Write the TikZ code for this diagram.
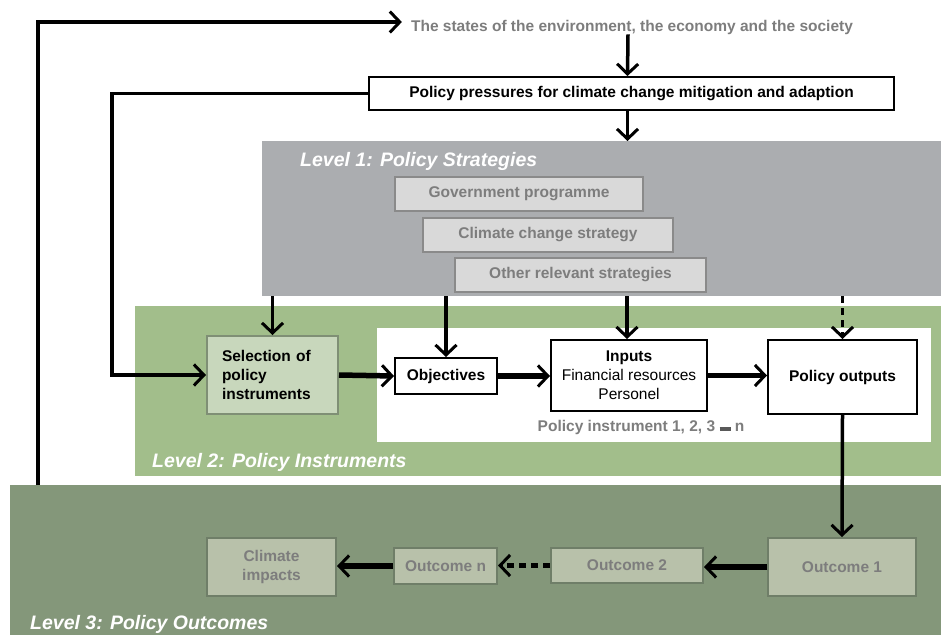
\documentclass[tikz,border=0pt]{standalone}
\usepackage{fontspec}
\setmainfont{Liberation Sans}
\usepackage{xcolor}
\usetikzlibrary{arrows, arrows.meta}
\usetikzlibrary{positioning}
\usetikzlibrary{calc}

\definecolor{levelone}{RGB}{171,173,176}
\definecolor{leveltwo}{RGB}{162,190,139}
\definecolor{levelthree}{RGB}{132,151,122}
\definecolor{stratfill}{RGB}{217,217,217}
\definecolor{stratline}{RGB}{138,138,138}
\definecolor{greytext}{RGB}{125,125,125}
\definecolor{selfill}{RGB}{200,215,188}
\definecolor{selline}{RGB}{127,143,117}
\definecolor{outfill}{RGB}{184,193,170}
\definecolor{outline}{RGB}{111,126,104}

\tikzset{
  txt/.style={font=\fontsize{15.5}{19}\selectfont\bfseries, inner sep=0pt},
  whitebox/.style={txt, draw=black, line width=2pt, fill=white, align=center},
  stratbox/.style={txt, draw=stratline, line width=2pt, fill=stratfill, text=greytext},
  selbox/.style={txt, draw=selline, line width=2pt, fill=selfill, align=left},
  outbox/.style={txt, draw=outline, line width=2pt, fill=outfill, text=greytext, align=center},
  levellabel/.style={font=\fontsize{19.5}{22}\selectfont\bfseries\itshape, text=white, inner sep=0pt, anchor=west},
  arr/.style={line width=3.5pt, -{Straight Barb[length=10pt,width=21pt,line width=3pt]}},
  thickarr/.style={arr, line width=5.5pt}
}

\begin{document}
\begin{tikzpicture}[x=1pt,y=-1pt]
  \useasboundingbox (0,0) rectangle (941,635);
  % Level bands
  \node[fill=levelone, minimum width=679pt, minimum height=155pt, anchor=north west, inner sep=0pt] (lvlone) at (262,141) {};
  \node[fill=leveltwo, minimum width=806pt, minimum height=170pt, anchor=north west, inner sep=0pt] (lvltwo) at (135,306) {};
  \node[fill=levelthree, minimum width=931pt, minimum height=150pt, anchor=north west, inner sep=0pt] (lvlthree) at (10,485) {};
  \node[fill=white, minimum width=554pt, minimum height=114pt, anchor=north west, inner sep=0pt] (instr) at (377,328) {};
  % Labels
  \node[levellabel] (lblone) at (300,161) {Level 1: Policy Strategies};
  \node[levellabel] (lbltwo) at (152,462) {Level 2: Policy Instruments};
  \node[levellabel] (lblthree) at (30,624) {Level 3: Policy Outcomes};

  % Top
  \node[txt, text=greytext] (states) at (632,27) {The states of the environment, the economy and the society};
  \node[whitebox, minimum width=525pt, minimum height=33pt] (pressure) at (631.5,93.5) {Policy pressures for climate change mitigation and adaption};

  % Level 1 boxes
  \node[stratbox, minimum width=248pt, minimum height=34pt] (gov) at (519,194) {Government programme};
  \node[stratbox, minimum width=250pt, minimum height=34pt] (ccs) at (548,235) {Climate change strategy};
  \node[stratbox, minimum width=251pt, minimum height=34pt] (other) at (580.5,275) {Other relevant strategies};

  % Level 2 boxes
  \node[selbox, minimum width=131pt, minimum height=78pt, text width=101pt] (sel) at (272.5,375) {Selection of\\policy\\instruments};
  \node[whitebox, minimum width=102pt, minimum height=36pt] (obj) at (446,376) {Objectives};
  \node[whitebox, minimum width=156pt, minimum height=71pt] (inputs) at (629,375.5) {Inputs\\\mdseries Financial resources\\\mdseries Personel};
  \node[whitebox, minimum width=149pt, minimum height=74pt] (outputs) at (842.5,377) {Policy outputs};
  \node[txt, text=greytext] (instrno) at (641,427) {Policy instrument 1, 2, 3 \textcolor{black!65}{\rule{11pt}{4pt}} n};

  % Level 3 boxes
  \node[outbox, minimum width=148pt, minimum height=58pt] (outone) at (842,567) {Outcome 1};
  \node[outbox, minimum width=152pt, minimum height=35pt] (outtwo) at (627,565.5) {Outcome 2};
  \node[outbox, minimum width=103pt, minimum height=36pt] (outn) at (445.5,566) {Outcome n};
  \node[outbox, minimum width=129pt, minimum height=58pt] (climate) at (271.5,567) {Climate\\impacts};

  % Feedback lines
  \coordinate (fb) at (38,485);
  \draw[arr] (fb) |- ([yshift=5pt,xshift=-9pt]states.west);
  \draw[arr] (pressure.west) -- ++(-256,0) |- (sel.west);

  % Down arrows
  \draw[arr] ([xshift=-4pt]states.south) -- ([xshift=-4pt]pressure.north);
  \draw[arr] ([xshift=-4pt]pressure.south) -- ([xshift=-4pt]pressure.south |- lvlone.north);
  \draw[arr] (sel.north |- lvlone.south) -- (sel.north);
  \draw[arr] (obj.north |- lvlone.south) -- (obj.north);
  \draw[arr] ([xshift=-2pt]inputs.north |- lvlone.south) -- ([xshift=-2pt]inputs.north);
  \draw[arr, dash pattern=on 7pt off 5pt] (outputs.north |- lvlone.south) -- (outputs.north);

  % Across
  \draw[thickarr] (sel.east) -- (obj.west);
  \draw[thickarr] (obj.east) -- (obj.east -| inputs.west);
  \draw[thickarr] (inputs.east) -- (inputs.east -| outputs.west);
  \draw[arr] (outputs.south) -- (outone.north);
  \draw[thickarr] (outone.west) -- (outone.west -| outtwo.east);
  \draw[thickarr, dash pattern=on 7pt off 5pt] (outtwo.west) -- (outtwo.west -| outn.east);
  \draw[thickarr] (outn.west) -- (outn.west -| climate.east);
\end{tikzpicture}
\end{document}
